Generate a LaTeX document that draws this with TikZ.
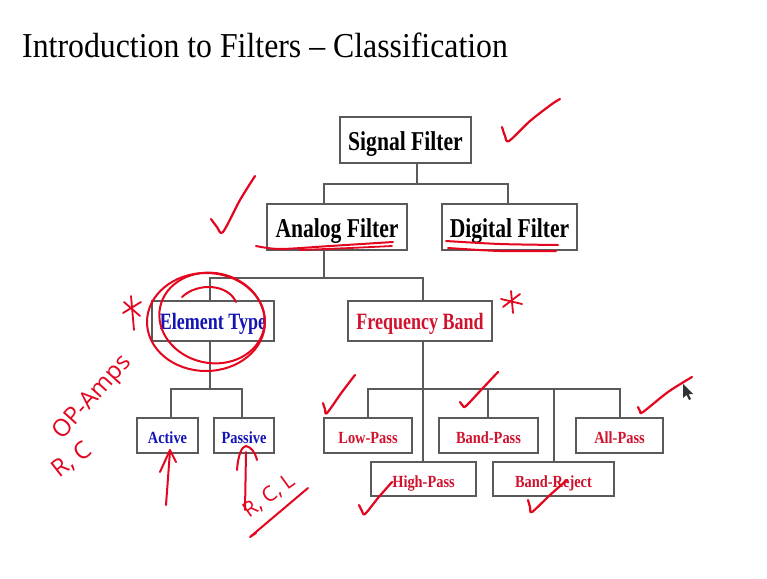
\documentclass[tikz,border=0pt]{standalone}
\usepackage{fontspec}
\setmainfont{Liberation Serif}
\newfontfamily\handfont{Open Sans}
\usepackage{graphicx}
\definecolor{boxline}{HTML}{5A5A5A}
\definecolor{tred}{HTML}{D0122E}
\definecolor{tblue}{HTML}{1414B4}
\definecolor{ink}{HTML}{E3061E}
\newcommand\tallbig[1]{\scalebox{1}[1.26]{#1}}
\newcommand\tallmid[1]{\scalebox{1}[1.3]{#1}}
\newcommand\tallsm[1]{\scalebox{1}[1.18]{#1}}
\tikzset{
  bigbox/.style={draw=boxline, line width=1.2pt, inner sep=0pt, minimum height=46pt,
    text height=33pt, text depth=13pt,
    font=\fontsize{21.6}{24}\selectfont\bfseries},
  midbox/.style={draw=boxline, line width=1.2pt, inner sep=0pt, minimum height=40pt,
    text height=28pt, text depth=12pt,
    font=\fontsize{18}{20}\selectfont\bfseries},
  smbox/.style={draw=boxline, line width=1.2pt, inner sep=0pt, minimum height=35pt,
    text height=25pt, text depth=10pt,
    font=\fontsize{14.4}{16}\selectfont\bfseries},
  lowbox/.style={smbox, minimum height=34pt, text height=25pt, text depth=9pt},
  link/.style={draw=boxline, line width=1.2pt},
  hw/.style={draw=ink, line width=2.2pt, line cap=round, line join=round},
  hwtext/.style={text=ink, inner sep=0pt, font=\handfont\fontsize{24}{26}\selectfont},
}
\begin{document}
\begin{tikzpicture}[x=1pt,y=-1pt]
\useasboundingbox (0,0) rectangle (767,578);
\fill[white] (0,0) rectangle (767,578);

% title
\node[anchor=base west, inner sep=0pt, font=\fontsize{31.8}{34}\selectfont] (title) at (22,57)
  {\scalebox{1}[1.1]{Introduction to Filters -- Classification}};

% boxes
\node[bigbox, minimum width=131pt] (sig) at (405.5,140) {\tallbig{Signal Filter}};
\node[bigbox, minimum width=140pt] (ana) at (337,227) {\tallbig{Analog Filter}};
\node[bigbox, minimum width=135pt] (dig) at (509.5,227) {\tallbig{Digital Filter}};
\node[midbox, minimum width=122pt, text=tblue] (elt) at (213,321) {\tallmid{Element Type}};
\node[midbox, minimum width=144pt, text=tred] (frq) at (420,321) {\tallmid{Frequency Band}};
\node[smbox, minimum width=61pt, text=tblue] (act) at (167.5,435.5) {\tallsm{Active}};
\node[smbox, minimum width=60pt, text=tblue] (pas) at (244,435.5) {\tallsm{Passive}};
\node[smbox, minimum width=88pt, text=tred] (low) at (368,435.5) {\tallsm{Low-Pass}};
\node[smbox, minimum width=99pt, text=tred] (bp) at (488.5,435.5) {\tallsm{Band-Pass}};
\node[smbox, minimum width=87pt, text=tred] (ap) at (619.5,435.5) {\tallsm{All-Pass}};
\node[lowbox, minimum width=105pt, text=tred] (hp) at (423.5,479) {\tallsm{High-Pass}};
\node[lowbox, minimum width=121pt, text=tred] (br) at (553.5,479) {\tallsm{Band-Reject}};

% connectors
\coordinate (j1) at (417,184);
\coordinate (j1l) at (324,184);
\coordinate (j1r) at (508,184);
\draw[link] (j1 |- sig.south) -- (j1);
\draw[link] (j1l |- ana.north) -- (j1l) -- (j1r) -- (j1r |- dig.north);

\coordinate (j2) at (324,278);
\coordinate (j2l) at (210,278);
\coordinate (j2r) at (423,278);
\draw[link] (j2 |- ana.south) -- (j2);
\draw[link] (j2l |- elt.north) -- (j2l) -- (j2r) -- (j2r |- frq.north);

\coordinate (j3) at (210,389);
\coordinate (j3l) at (171,389);
\coordinate (j3r) at (242,389);
\draw[link] (j3 |- elt.south) -- (j3);
\draw[link] (j3l |- act.north) -- (j3l) -- (j3r) -- (j3r |- pas.north);

\coordinate (j4) at (423,389);
\coordinate (j4a) at (368,389);
\coordinate (j4b) at (488,389);
\coordinate (j4c) at (554,389);
\coordinate (j4d) at (620,389);
\draw[link] (j4 |- frq.south) -- (j4 |- hp.north);
\draw[link] (j4a |- low.north) -- (j4a) -- (j4d) -- (j4d |- ap.north);
\draw[link] (j4b) -- (j4b |- bp.north);
\draw[link] (j4c) -- (j4c |- br.north);

% ---- handwritten annotations ----
% checks
\draw[hw] plot[smooth] coordinates {(502,127) (505,136) (509,141) (530,121) (552,104) (560,99)};
\draw[hw] plot[smooth] coordinates {(211,219) (217,227) (223,232) (240,200) (255,176)};
\draw[hw] plot[smooth] coordinates {(323,403) (325,409) (327,413) (342,392) (355,375)};
\draw[hw] plot[smooth] coordinates {(460,402) (463,406) (466,406) (482,389) (498,372)};
\draw[hw] plot[smooth] coordinates {(638,407) (640,411) (643,412) (668,392) (692,377)};
\draw[hw] plot[smooth] coordinates {(359,505) (362,511) (365,514) (378,498) (392,482)};
\draw[hw] plot[smooth] coordinates {(528,500) (530,507) (532,512) (550,495) (567,480)};
% underlines
\draw[hw, line width=2pt] plot[smooth] coordinates {(256,246) (280,249) (330,246) (393,242)};
\draw[hw, line width=1.8pt] plot[smooth] coordinates {(300,250) (350,248) (392,246)};
\draw[hw, line width=2pt] plot[smooth] coordinates {(446,241) (500,244) (558,245)};
\draw[hw, line width=2pt] plot[smooth] coordinates {(448,248) (500,251) (556,251)};
% circle round Element Type
\draw[hw, line width=2pt] (206,322) ellipse [x radius=59, y radius=49];
\draw[hw, line width=2pt, rotate around={-12:(212,318)}] (212,318) ellipse [x radius=53, y radius=45];
\draw[hw, line width=2pt] (182,297) .. controls (198,282) and (228,284) .. (236,302);
% asterisks
\draw[hw, line width=1.8pt] (131,296) -- (134,330);
\draw[hw, line width=1.8pt] (123,313) -- (141,302);
\draw[hw, line width=1.8pt] (124,302) -- (140,316);
\draw[hw, line width=1.8pt] (511,291) -- (513,313);
\draw[hw, line width=1.8pt] (501,299) -- (522,304);
\draw[hw, line width=1.8pt] (503,307) -- (520,294);
% arrows under Active / Passive
\draw[hw, line width=2pt] (166,505) -- (170,451);
\draw[hw, line width=2pt] (160,472) -- (170,450) -- (176,462);
\draw[hw, line width=2pt] (245,510) -- (246,452);
\draw[hw, line width=2pt] (237,470) .. controls (238,455) and (242,446) .. (246,446) .. controls (251,447) and (255,452) .. (257,460);
% R,C,L underline
\draw[hw, line width=2pt] (256,533) -- (250,537) -- (308,488);
% handwritten text
\node[hwtext, rotate=48] (opamps) at (93,398) {OP-Amps};
\node[hwtext, rotate=38] (rc) at (72,460) {R, C};
\node[hwtext, rotate=36, font=\handfont\fontsize{21}{23}\selectfont] (rcl) at (269,496) {R, C, L};

% mouse pointer
\fill[black!80] (683,384) -- (683,398) -- (686.5,395) -- (689,400) -- (691,399) -- (688.5,394) -- (693,394) -- cycle;
\end{tikzpicture}
\end{document}
